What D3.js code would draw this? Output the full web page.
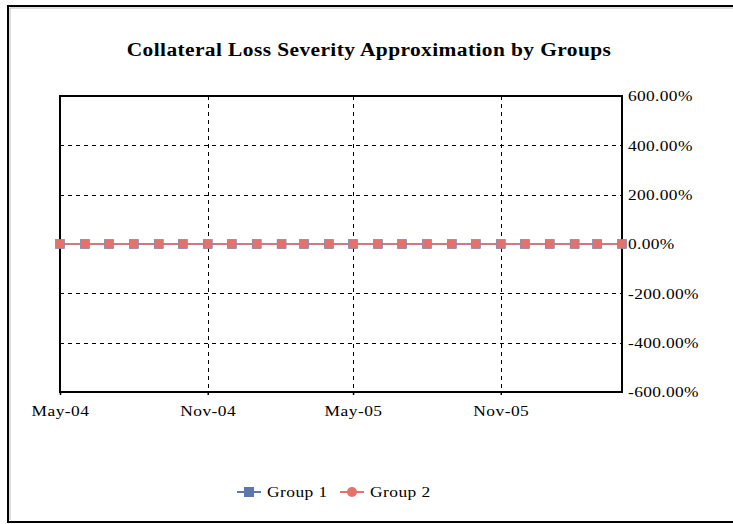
<!DOCTYPE html>
<html>
<head>
<meta charset="utf-8">
<script src="https://cdn.jsdelivr.net/npm/d3@7"></script>
<style>
  body { margin: 0; background: #fff; overflow: hidden; }
  svg { display: block; }
  text { font-family: "Liberation Serif", "Times New Roman", serif; fill: #000; }
</style>
</head>
<body>
<script>
// Monthly observations, May 2004 through April 2006
const months = ["2004-05","2004-06","2004-07","2004-08","2004-09","2004-10","2004-11","2004-12",
  "2005-01","2005-02","2005-03","2005-04","2005-05","2005-06","2005-07","2005-08","2005-09","2005-10",
  "2005-11","2005-12","2006-01","2006-02","2006-03","2006-04"];
const group1 = [0,0,0,0,0,0,0,0,0,0,0,0,0,0,0,0,0,0,0,0,0,0,0,0];
const group2 = [0,0,0,0,0,0,0,0,0,0,0,0,0,0,0,0,0,0,0,0,0,0,0,0];
const seriesNames = ["Group 1", "Group 2"];
const seriesColors = ["#5a78ad", "#e5716c"];
const yTicks = [-6, -4, -2, 0, 2, 4, 6];
const xTickLabels = ["2004-05", "2004-11", "2005-05", "2005-11"];

const W = 733, H = 524;
const SX = 1.16;          // horizontal stretch for the wide serif lettering
const parse = d3.timeParse("%Y-%m");
const dates = months.map(parse);

const svg = d3.select("body").append("svg").attr("width", W).attr("height", H);

// outer chart frame (runs off the right edge)
svg.append("path").attr("d", "M760,6 H8 V522 H760")
  .attr("fill", "none").attr("stroke", "#000").attr("stroke-width", 2);
svg.append("path").attr("d", "M760,8 H10 V520")
  .attr("fill", "none").attr("stroke", "#bbb").attr("stroke-width", 1);

const plot = { left: 60, right: 622, top: 96, bottom: 392 };

const x = d3.scaleTime().domain(d3.extent(dates)).range([plot.left, plot.right]);
const y = d3.scaleLinear().domain([-6, 6]).range([plot.bottom, plot.top]);

svg.append("text").attr("transform", `translate(369,56) scale(1.19,1)`)
  .attr("text-anchor", "middle").attr("font-size", 18).attr("font-weight", "bold")
  .attr("letter-spacing", 0.35)
  .text("Collateral Loss Severity Approximation by Groups");

// horizontal dashed gridlines
svg.append("g").selectAll("line").data(yTicks.filter(t => t !== 0 && Math.abs(t) !== 6)).join("line")
  .attr("x1", plot.left).attr("x2", plot.right)
  .attr("y1", d => Math.round(y(d)) + 0.5).attr("y2", d => Math.round(y(d)) + 0.5)
  .attr("stroke", "#000").attr("stroke-dasharray", "4,4");

// vertical dashed gridlines at x ticks
const xTickDates = xTickLabels.map(parse);
svg.append("g").selectAll("line").data(xTickDates.slice(1)).join("line")
  .attr("x1", d => Math.round(x(d)) + 0.5).attr("x2", d => Math.round(x(d)) + 0.5)
  .attr("y1", plot.top).attr("y2", plot.bottom)
  .attr("stroke", "#000").attr("stroke-dasharray", "4,4");

// plot frame
svg.append("rect").attr("x", plot.left).attr("y", plot.top)
  .attr("width", plot.right - plot.left).attr("height", plot.bottom - plot.top)
  .attr("fill", "none").attr("stroke", "#000").attr("stroke-width", 2);

// bottom axis
const xAxis = d3.axisBottom(x).tickValues(xTickDates).tickFormat(d3.timeFormat("%b-%y"))
  .tickSize(3).tickSizeOuter(0);
const gx = svg.append("g").attr("transform", `translate(0,${plot.bottom})`).call(xAxis);
gx.select(".domain").remove();
gx.selectAll(".tick line").attr("stroke-width", 1.5);
gx.selectAll(".tick text").attr("font-size", 15).attr("dy", 0).attr("y", 24)
  .attr("transform", `scale(${SX},1)`).attr("letter-spacing", 0.4)
  .attr("font-family", "Liberation Serif, serif");

// right axis, percent labels with a plain hyphen for negatives
const pct = d3.format(".2f");
const yAxis = d3.axisRight(y).tickValues(yTicks)
  .tickFormat(d => (d < 0 ? "-" : "") + pct(Math.abs(d) * 100) + "%").tickSize(0);
const gy = svg.append("g").attr("transform", `translate(${plot.right},0)`).call(yAxis);
gy.select(".domain").remove();
gy.selectAll(".tick text").attr("font-size", 15).attr("x", 6 / SX).attr("dy", "0.32em")
  .attr("transform", `scale(${SX},1)`).attr("letter-spacing", 0.3)
  .attr("font-family", "Liberation Serif, serif");

// series
const line = d3.line().x((d, i) => x(dates[i])).y(d => y(d));
[group1, group2].forEach((vals, s) => {
  const g = svg.append("g");
  g.append("path").datum(vals).attr("d", line).attr("fill", "none")
    .attr("stroke", seriesColors[s]).attr("stroke-width", 1.5);
  g.selectAll("rect").data(vals).join("rect")
    .attr("x", (d, i) => x(dates[i]) - 4.5).attr("y", d => y(d) - 4.5)
    .attr("width", 9).attr("height", 9)
    .attr("fill", seriesColors[s]).attr("stroke", s === 1 ? "#7a8fc0" : "none").attr("stroke-width", 0.6);
});

// legend
const legend = svg.append("g").attr("transform", "translate(237,492)");
const legendX = [0, 103];
seriesNames.forEach((name, s) => {
  const g = legend.append("g").attr("transform", `translate(${legendX[s]},0)`);
  g.append("line").attr("x1", 0).attr("x2", 24).attr("y1", 0).attr("y2", 0)
    .attr("stroke", seriesColors[s]).attr("stroke-width", 2);
  if (s === 0) {
    g.append("rect").attr("x", 7).attr("y", -5).attr("width", 10).attr("height", 10).attr("fill", seriesColors[s]);
  } else {
    g.append("circle").attr("cx", 12).attr("cy", 0).attr("r", 5).attr("fill", seriesColors[s]);
  }
  g.append("text").attr("transform", `translate(30,5) scale(${SX},1)`).attr("font-size", 15)
    .attr("letter-spacing", 0.4).text(name);
});
</script>
</body>
</html>
